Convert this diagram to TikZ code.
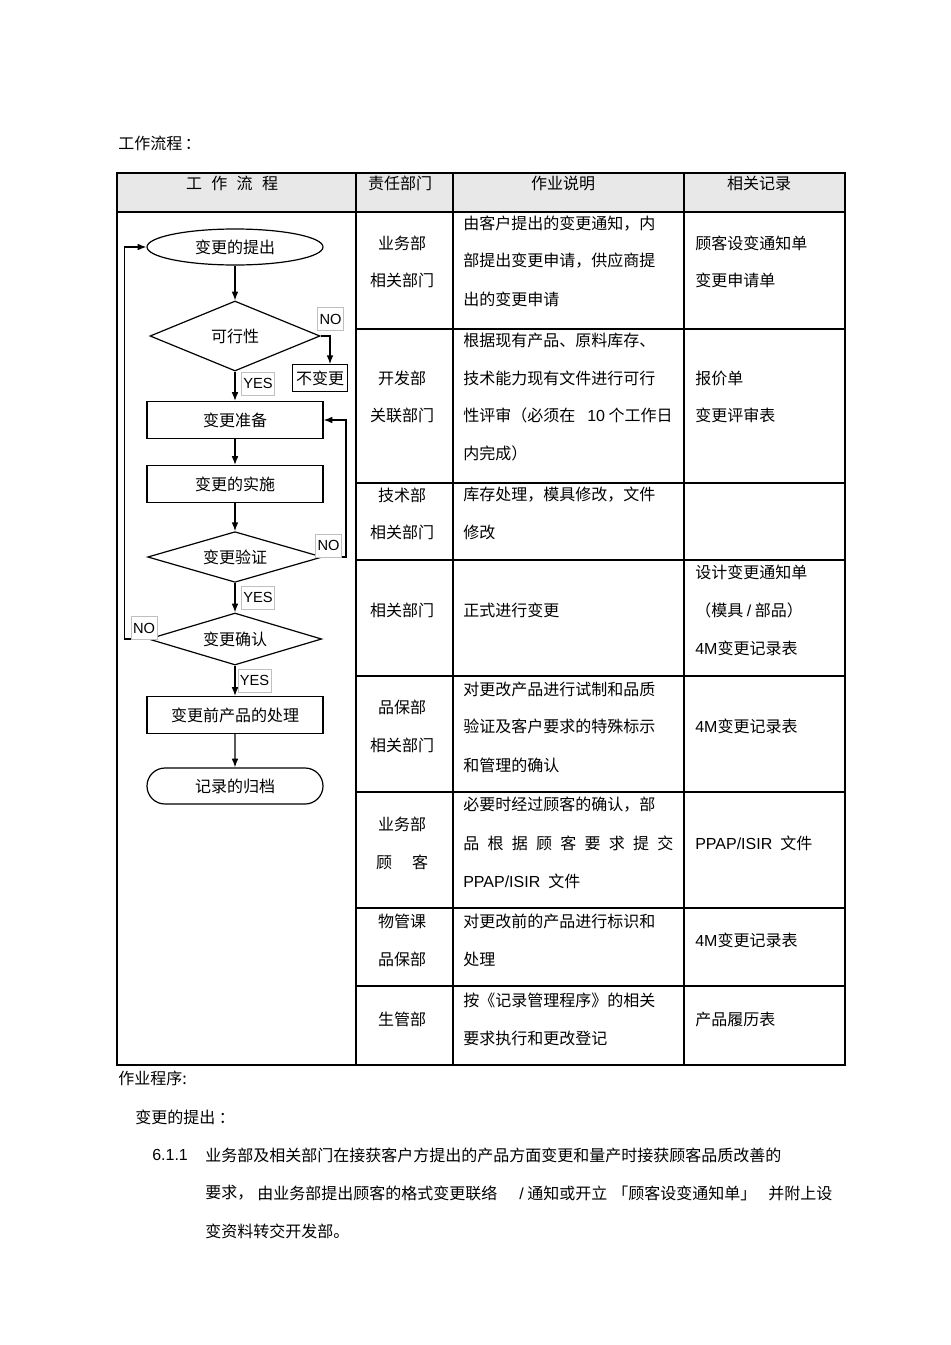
\documentclass[tikz,border=0pt]{standalone}
\usepackage{fontspec}
\setmainfont{Noto Sans CJK SC}
\newfontfamily\lat{Liberation Sans}
\usetikzlibrary{arrows.meta,shapes.geometric,shapes.misc}

\begin{document}
\begin{tikzpicture}[x=0.75pt,y=-0.75pt,font=\fontsize{12pt}{14pt}\selectfont,
  every node/.style={inner sep=0pt},
  procbox/.style={draw,line width=0.9pt,minimum width=132pt,minimum height=27.75pt},
  decbox/.style={draw,diamond,aspect=3.4,line width=0.9pt,minimum width=130pt,minimum height=39pt},
  termbox/.style={draw,line width=0.9pt,minimum width=132pt,minimum height=27pt},
  lbl/.style={draw=black!25,fill=white,font=\lat\fontsize{11pt}{13pt}\selectfont,inner sep=1.5pt,minimum height=17pt},
  arr/.style={-{Latex[length=6.5pt,width=5pt]},line width=0.9pt},
  grid/.style={line width=1.5pt},
  ltxt/.style={anchor=west}]
  \useasboundingbox (0,0) rectangle (950,1345);
  % table frame
  \fill[black!9] (117,173) rectangle (845,212);
  \draw[grid] (117,173) rectangle (845,1065);
  \draw[grid] (117,212) -- (845,212);
  \foreach \x in {356,453,684} \draw[grid] (\x,173) -- (\x,1065);
  \foreach \y in {329,483,560,676,792,908,986} \draw[grid] (356,\y) -- (845,\y);
  % header
  \node[ltxt] (title) at (118,143) {工作流程\hspace{2pt}：};
  \node (hflow) at (232,183) {工\hspace{7pt}作\hspace{7pt}流\hspace{7pt}程};
  \node (hdept) at (400,183) {责任部门};
  \node (hdesc) at (563,183) {作业说明};
  \node (hrec) at (759,183) {相关记录};
  % row 1
  \node (d1a) at (402,243) {业务部};
  \node (d1b) at (402,280) {相关部门};
  \node[ltxt] (s1a) at (463,224) {由客户提出的变更通知，内};
  \node[ltxt] (s1b) at (463,261) {部提出变更申请，供应商提};
  \node[ltxt] (s1c) at (463,299) {出的变更申请};
  \node[ltxt] (r1a) at (695,243) {顾客设变通知单};
  \node[ltxt] (r1b) at (695,280) {变更申请单};
  % row 2
  \node (d2a) at (402,378) {开发部};
  \node (d2b) at (402,415) {关联部门};
  \node[ltxt] (s2a) at (463,340) {根据现有产品、原料库存、};
  \node[ltxt] (s2b) at (463,378) {技术能力现有文件进行可行};
  \node[ltxt] (s2c) at (463,415) {性评审（必须在\hspace{9pt}{\lat 10} 个工作日};
  \node[ltxt] (s2d) at (463,453) {内完成）};
  \node[ltxt] (r2a) at (695,378) {报价单};
  \node[ltxt] (r2b) at (695,415) {变更评审表};
  % row 3
  \node (d3a) at (402,495) {技术部};
  \node (d3b) at (402,532) {相关部门};
  \node[ltxt] (s3a) at (463,495) {库存处理，模具修改，文件};
  \node[ltxt] (s3b) at (463,532) {修改};
  % row 4
  \node (d4a) at (402,610) {相关部门};
  \node[ltxt] (s4a) at (463,610) {正式进行变更};
  \node[ltxt] (r4a) at (695,572) {设计变更通知单};
  \node[ltxt] (r4b) at (695,610) {（模具 {\lat /} 部品）};
  \node[ltxt] (r4c) at (695,648) {{\lat 4M}变更记录表};
  % row 5
  \node (d5a) at (402,707) {品保部};
  \node (d5b) at (402,745) {相关部门};
  \node[ltxt] (s5a) at (463,689) {对更改产品进行试制和品质};
  \node[ltxt] (s5b) at (463,726) {验证及客户要求的特殊标示};
  \node[ltxt] (s5c) at (463,765) {和管理的确认};
  \node[ltxt] (r5a) at (695,726) {{\lat 4M}变更记录表};
  % row 6
  \node (d6a) at (402,824) {业务部};
  \node (d6b) at (402,862) {顾\hspace{15pt}客};
  \node[ltxt] (s6a) at (463,805) {必要时经过顾客的确认，部};
  \node[ltxt] (s6b) at (463,843) {\makebox[157.5pt][l]{品\hfill 根\hfill 据\hfill 顾\hfill 客\hfill 要\hfill 求\hfill 提\hfill 交}};
  \node[ltxt] (s6c) at (463,881) {{\lat PPAP/ISIR}\hspace{6pt}文件};
  \node[ltxt] (r6a) at (695,843) {{\lat PPAP/ISIR}\hspace{6pt}文件};
  % row 7
  \node (d7a) at (402,921) {物管课};
  \node (d7b) at (402,959) {品保部};
  \node[ltxt] (s7a) at (463,921) {对更改前的产品进行标识和};
  \node[ltxt] (s7b) at (463,959) {处理};
  \node[ltxt] (r7a) at (695,940) {{\lat 4M}变更记录表};
  % row 8
  \node (d8a) at (402,1019) {生管部};
  \node[ltxt] (s8a) at (463,1000) {按《记录管理程序》的相关};
  \node[ltxt] (s8b) at (463,1038) {要求执行和更改登记};
  \node[ltxt] (r8a) at (695,1019) {产品履历表};
  % flow chart
  \node[termbox,ellipse] (start) at (235,247) {变更的提出};
  \node[decbox,minimum width=127.5pt,minimum height=52.5pt] (feas) at (235,336) {可行性};
  \node[draw,line width=0.9pt,minimum width=41pt,minimum height=20pt] (nochg) at (320,378) {不变更};
  \node[procbox] (prep) at (235,420) {变更准备};
  \node[procbox] (impl) at (235,484) {变更的实施};
  \node[decbox,minimum width=131pt,minimum height=38pt] (verify) at (235,557) {变更验证};
  \node[decbox] (confirm) at (235,639) {变更确认};
  \node[procbox] (pre) at (235,715) {变更前产品的处理};
  \node[termbox,rounded rectangle] (arch) at (235,786) {记录的归档};
  \draw[arr] (start) -- (feas);
  \draw[arr] (feas.east) -| ([xshift=7.5pt]nochg.north);
  \draw[arr] (feas) -- (prep);
  \draw[arr] (prep) -- (impl);
  \draw[arr] (impl) -- (verify);
  \draw[arr] (verify.east) -- ++(23,0) |- (prep.east);
  \draw[arr] (verify) -- (confirm);
  \draw[arr] (confirm.west) -- ++(-23,0) |- (start.west);
  \draw[arr] (confirm) -- (pre);
  \draw[arr] (pre) -- (arch);
  \node[lbl] (no1) at (330.5,319) {NO};
  \node[lbl] (yes1) at (258,383.5) {YES};
  \node[lbl] (no2) at (328.5,545.5) {NO};
  \node[lbl] (yes2) at (258,597.5) {YES};
  \node[lbl] (no3) at (144,628) {NO};
  \node[lbl] (yes3) at (254.5,680.5) {YES};
  % procedure text
  \node[ltxt] (proc) at (118,1078) {作业程序:};
  \node[ltxt] (sub) at (135,1117) {变更的提出 ：};
  \node[ltxt] (num) at (152,1155) {\lat 6.1.1};
  \node[ltxt] (p1) at (205,1155) {业务部及相关部门在接获客户方提出的产品方面变更和量产时接获顾客品质改善的};
  \node[ltxt] (p2a) at (205,1193) {要求，};
  \node[ltxt] (p2b) at (257,1193) {由业务部提出顾客的格式变更联络};
  \node[ltxt] (p2c) at (519,1193) {{\lat /} 通知或开立};
  \node[ltxt] (p2d) at (612,1193) {「顾客设变通知单」};
  \node[ltxt] (p2e) at (768,1193) {并附上设};
  \node[ltxt] (p3) at (205,1231) {变资料转交开发部。};
\end{tikzpicture}
\end{document}
